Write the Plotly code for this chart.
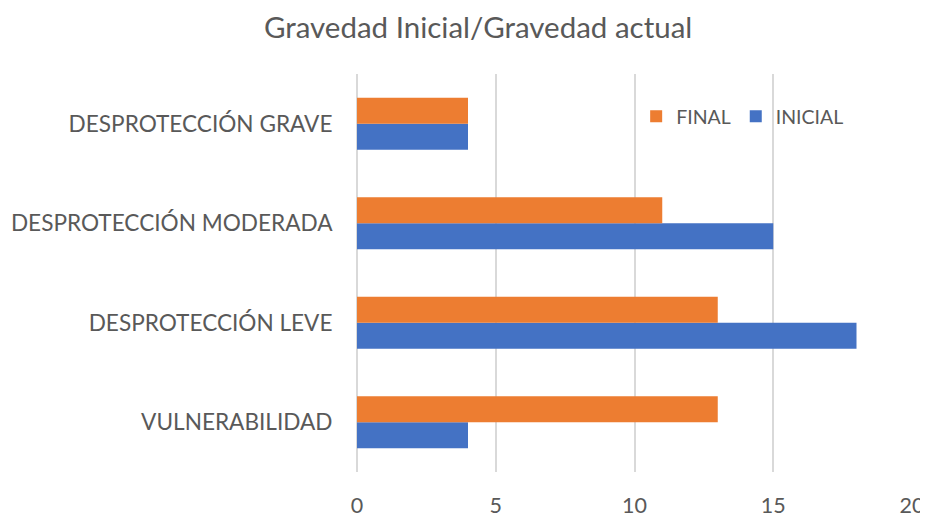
import plotly.graph_objects as go

categories = ["VULNERABILIDAD", "DESPROTECCIÓN LEVE", "DESPROTECCIÓN MODERADA", "DESPROTECCIÓN GRAVE"]
inicial = [4, 18, 15, 4]
final = [13, 13, 11, 4]
x_ticks = [0, 5, 10, 15, 20]

BLUE = "#4472C4"
ORANGE = "#ED7D31"
TXT = "#595959"
FONT = "Lato, 'Open Sans', sans-serif"

fig = go.Figure()
fig.add_trace(go.Bar(y=categories, x=inicial, orientation="h", name="INICIAL",
                     marker=dict(color=BLUE, line=dict(width=0))))
fig.add_trace(go.Bar(y=categories, x=final, orientation="h", name="FINAL",
                     marker=dict(color=ORANGE, line=dict(width=0))))

fig.update_layout(
    width=920, height=510,
    paper_bgcolor="white", plot_bgcolor="white",
    margin=dict(l=349, r=16, t=66, b=46, autoexpand=False),
    barmode="group", bargap=0.477, bargroupgap=0,
    title=dict(text="Gravedad Inicial/Gravedad actual", x=0.511, xanchor="center",
               y=0.962, yanchor="middle",
               font=dict(family=FONT, size=29.5, color=TXT)),
    font=dict(family=FONT, color=TXT),
    legend=dict(orientation="h", x=0.503, y=0.893, xanchor="left", yanchor="middle",
                traceorder="reversed", font=dict(family=FONT, size=19.5, color=TXT),
                bgcolor="rgba(0,0,0,0)", itemwidth=30),
    xaxis=dict(range=[0, 20], tickvals=x_ticks, showgrid=True, gridcolor="#D9D9D9",
               gridwidth=1.5, zeroline=True, zerolinecolor="#D9D9D9", zerolinewidth=1.5,
               showline=False, ticks="outside", ticklen=14, tickcolor="rgba(0,0,0,0)",
               automargin=False,
               tickfont=dict(family=FONT, size=21.5, color=TXT)),
    yaxis=dict(showgrid=False, showline=False, zeroline=False, automargin=False,
               ticks="outside", ticklen=19, tickcolor="rgba(0,0,0,0)",
               tickfont=dict(family=FONT, size=22.6, color=TXT)),
)

fig.write_html("out.html")
